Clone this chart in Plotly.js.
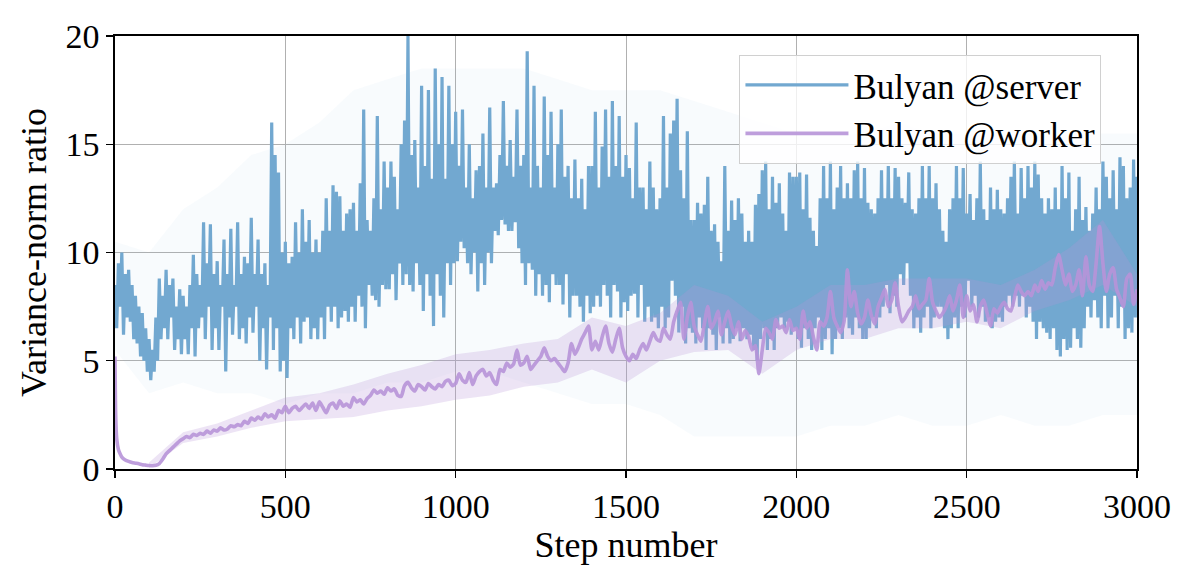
<!DOCTYPE html>
<html>
<head>
<meta charset="utf-8">
<script src="https://cdn.plot.ly/plotly-3.0.1.min.js"></script>
<style>html,body{margin:0;padding:0;background:#fff;}#chart{width:1196px;height:583px;}</style>
</head>
<body>
<div id="chart"></div>
<script>
// ---- Data ----
// Bulyan @server: local peaks at steps 0,10,...,3000 and local troughs at steps 5,15,...,2995
const serverPeaks = [
  8.5, 9.5, 10.0, 9.0, 9.2, 8.5, 8.0, 7.5, 7.2, 6.5,
  6.0, 5.5, 7.0, 8.8, 8.0, 9.2, 8.5, 8.8, 7.5, 8.3,
  8.0, 7.5, 8.5, 9.9, 9.0, 8.5, 11.4, 9.5, 11.3, 9.0,
  9.6, 8.5, 10.6, 9.0, 11.1, 8.5, 11.4, 9.0, 9.8, 9.5,
  11.6, 9.0, 10.6, 9.0, 9.5, 8.5, 16.0, 14.5, 13.7, 10.0,
  10.5, 9.5, 9.8, 11.4, 10.0, 12.0, 10.5, 11.5, 10.0, 10.6,
  10.0, 11.0, 12.5, 11.0, 13.1, 12.8, 12.6, 11.0, 11.8, 12.0,
  12.3, 11.0, 13.2, 16.6, 11.5, 11.0, 12.5, 16.3, 12.0, 14.2,
  13.0, 14.2, 13.5, 12.0, 15.0, 16.1, 20.0, 14.5, 15.2, 13.0,
  17.7, 14.0, 17.5, 13.4, 18.5, 15.0, 18.1, 13.4, 17.7, 15.0,
  16.5, 14.0, 16.6, 13.0, 15.0, 12.5, 13.8, 14.0, 15.5, 13.0,
  16.7, 13.0, 13.2, 14.5, 17.0, 14.0, 15.2, 13.5, 16.6, 14.0,
  14.5, 19.3, 13.0, 17.7, 14.0, 13.0, 17.2, 14.5, 16.5, 13.0,
  15.0, 16.6, 13.5, 14.0, 12.5, 14.3, 12.5, 13.4, 12.0, 14.0,
  14.0, 16.5, 13.0, 14.9, 16.6, 13.5, 17.0, 14.0, 16.3, 13.5,
  14.5, 13.9, 12.5, 16.0, 13.0, 13.0, 12.0, 14.2, 13.0, 12.0,
  12.5, 16.3, 13.0, 15.5, 16.1, 17.1, 13.8, 12.5, 15.6, 11.5,
  11.5, 12.3, 11.8, 12.2, 13.5, 11.0, 11.3, 10.5, 9.6, 14.0,
  11.0, 12.4, 11.5, 12.5, 11.8, 10.5, 11.0, 10.5, 12.2, 12.7,
  13.8, 14.2, 12.0, 13.5, 12.3, 13.2, 11.8, 11.0, 13.7, 13.5,
  13.5, 13.7, 12.0, 13.6, 11.6, 11.0, 10.3, 12.5, 14.0, 12.5,
  14.2, 12.0, 13.0, 14.0, 12.5, 13.2, 12.5, 13.8, 14.2, 12.5,
  13.9, 12.3, 12.0, 11.8, 12.5, 13.8, 12.5, 14.0, 12.5, 13.9,
  13.5, 12.5, 12.3, 13.7, 12.0, 11.8, 12.5, 14.0, 12.5, 14.0,
  12.5, 13.2, 12.0, 11.0, 10.5, 12.0, 12.5, 14.0, 12.5, 13.9,
  11.8, 12.7, 11.5, 12.5, 14.2, 12.0, 11.5, 13.0, 12.0, 12.9,
  12.0, 11.8, 12.5, 13.5, 14.2, 11.8, 13.9, 12.5, 14.0, 13.0,
  14.2, 13.6, 12.5, 11.8, 12.5, 12.0, 13.0, 12.0, 14.0, 12.5,
  13.7, 11.0, 12.0, 13.5, 11.5, 12.1, 11.0, 11.8, 13.0, 12.0,
  14.2, 13.5, 12.5, 13.8, 12.0, 14.4, 14.0, 12.5, 13.0, 14.3,
  13.5
];
const serverTroughs = [
  6.5, 7.5, 6.2, 7.0, 6.8, 6.0, 5.8, 5.2, 5.0, 4.5,
  4.1, 4.5, 5.0, 6.0, 6.5, 6.0, 7.0, 5.5, 6.0, 5.3,
  6.0, 5.3, 6.5, 5.2, 6.5, 7.0, 6.0, 7.5, 5.5, 6.5,
  5.5, 7.5, 4.5, 7.0, 6.2, 7.5, 6.0, 6.5, 5.8, 7.0,
  6.3, 7.5, 5.0, 6.5, 4.6, 7.0, 5.5, 6.5, 4.5, 5.0,
  4.2, 6.5, 6.0, 7.0, 5.8, 6.8, 7.0, 6.0, 6.5, 6.0,
  7.0, 6.0, 7.5, 6.8, 7.5, 6.5, 7.0, 7.3, 6.8, 7.5,
  6.8, 8.0, 7.5, 6.5, 8.5, 8.0, 7.8, 7.5, 8.5, 8.3,
  8.3, 9.0, 7.8, 9.5, 8.5, 9.0, 8.5, 8.2, 9.5, 8.5,
  7.3, 9.0, 8.0, 6.6, 9.0, 8.0, 7.0, 9.5, 8.5, 9.5,
  9.6, 10.5, 10.2, 9.5, 9.0, 10.0, 8.2, 9.5, 8.5, 10.0,
  9.5, 11.0, 10.8, 11.5, 11.3, 11.0, 11.0, 11.4, 10.2, 9.5,
  8.5, 9.5, 9.2, 8.0, 9.0, 8.0, 8.5, 7.7, 9.0, 8.5,
  8.5, 7.6, 9.0, 7.0, 8.0, 8.0, 7.5, 6.8, 8.0, 7.2,
  7.5, 8.0, 7.5, 8.5, 8.0, 7.0, 8.5, 8.2, 7.0, 7.7,
  7.3, 8.0, 8.1, 7.0, 8.5, 6.8, 7.5, 6.8, 7.0, 6.5,
  7.5, 6.5, 7.0, 8.7, 8.0, 6.3, 7.5, 5.8, 6.5, 6.3,
  5.8, 7.0, 6.5, 5.5, 6.5, 6.2, 5.5, 7.0, 5.8, 6.5,
  5.8, 6.0, 6.5, 5.9, 6.5, 6.0, 6.2, 5.5, 5.0, 6.0,
  6.5, 5.5, 6.0, 5.5, 6.5, 7.0, 6.5, 6.8, 6.2, 6.5,
  6.0, 5.6, 6.5, 6.0, 5.5, 6.5, 7.0, 5.5, 6.0, 6.5,
  5.3, 6.0, 6.5, 6.0, 7.0, 6.5, 6.2, 7.0, 6.5, 6.0,
  6.0, 6.5, 7.0, 6.5, 7.0, 7.5, 8.5, 7.2, 8.0, 7.5,
  9.0, 8.5, 9.5, 8.0, 6.5, 7.0, 6.3, 7.0, 7.5, 6.5,
  7.0, 7.5, 7.5, 6.5, 6.0, 6.5, 7.0, 6.5, 7.5, 7.0,
  8.7, 7.5, 8.0, 7.0, 7.5, 6.8, 7.0, 6.5, 6.8, 7.0,
  6.8, 7.5, 8.0, 7.5, 8.0, 7.5, 8.0, 7.0, 7.5, 6.8,
  6.0, 6.8, 6.5, 6.3, 6.0, 6.5, 5.5, 5.2, 6.0, 5.5,
  5.6, 6.5, 6.0, 5.6, 6.5, 7.5, 7.0, 7.8, 7.0, 6.5,
  8.0, 6.5, 7.0, 8.0, 6.5, 7.5, 6.0, 6.5, 6.3, 7.0
];
const serverStepSize = 10;

// Shaded spread of the server runs, one pair every 100 steps (0..3000)
const serverBandSteps = [0,100,200,300,400,500,600,700,800,900,1000,1100,1200,1300,1400,1500,
  1600,1700,1800,1900,2000,2100,2200,2300,2400,2500,2600,2700,2800,2900,3000];
const serverBandLow = [5.5,3.5,4.0,3.5,3.5,3.0,3.5,3.5,4.0,4.0,4.5,4.5,4.0,3.5,3.0,3.0,
  2.5,1.5,1.5,1.5,1.5,2.0,2.0,2.5,2.0,2.0,2.5,2.0,2.0,2.5,2.5];
const serverBandHigh = [10.5,10,12,13,14.5,15,16,17.5,18,18.5,18.5,18.5,18.5,18,17.5,17.5,
  17.5,17,16.5,16,15.5,15.5,15.5,16,15.5,15.5,15.5,15.5,15.5,15.5,15.5];

// Bulyan @worker: irregular start, then every 10 steps from 110 to 3000
const workerHeadSteps = [0,2,5,10,15,20,30,40,50,60,70,80,90,100];
const workerHeadValues = [5.2,2.5,1.4,0.9,0.7,0.55,0.42,0.35,0.3,0.27,0.24,0.2,0.18,0.16];
const workerValues = [
  0.15, 0.17, 0.25, 0.45, 0.7, 0.85, 1.0, 1.15, 1.3, 1.4,
  1.5, 1.45, 1.6, 1.55, 1.65, 1.6, 1.75, 1.65, 1.8, 1.75,
  1.9, 1.8, 1.85, 2.0, 1.95, 2.05, 2.0, 2.2, 2.1, 2.35,
  2.25, 2.4, 2.3, 2.55, 2.4, 2.5, 2.35, 2.7, 2.6, 2.9,
  2.6, 2.8, 2.9, 2.7, 2.85, 3.0, 2.8, 3.05, 2.7, 3.1,
  2.85, 2.6, 2.95, 3.05, 2.8, 3.15, 2.9, 3.0, 2.85, 3.3,
  3.1, 3.2, 3.0, 3.25, 3.4, 3.65, 3.5, 3.6, 3.45, 3.75,
  3.6, 3.7, 3.4, 3.35, 3.85, 4.0, 3.75, 3.6, 3.9, 3.8,
  3.65, 3.95, 3.8, 3.7, 3.9, 3.8, 4.05, 4.1, 3.85, 3.95,
  4.4, 4.1, 4.0, 4.45, 3.9, 4.3, 4.5, 4.6, 4.3, 4.45,
  4.1, 3.9, 4.6, 4.5, 4.9, 4.7, 4.85, 5.5, 4.8, 4.9,
  5.2, 4.6, 4.8, 5.0, 5.2, 5.6, 5.2, 5.0, 5.1, 4.9,
  4.7, 4.5, 4.9, 5.8, 5.3, 5.6, 6.0, 6.3, 6.6, 5.5,
  5.9, 5.5, 6.1, 6.6, 5.8, 5.4, 6.0, 6.5, 5.6, 5.2,
  5.0, 5.3, 5.1, 5.5, 5.8, 5.5, 5.9, 6.3, 6.0, 5.9,
  6.5, 6.2, 6.0, 6.8, 7.3, 7.7, 6.0, 7.0, 7.7, 6.6,
  6.2, 5.9, 6.7, 7.5, 6.5, 6.8, 7.3, 6.2, 6.8, 7.3,
  6.6, 6.2, 6.8, 6.0, 6.4, 6.1, 5.5, 5.7, 4.4, 5.5,
  6.5, 6.3, 6.0, 6.9, 6.5, 6.6, 6.3, 6.9, 6.4, 6.5,
  6.0, 7.3, 6.5, 6.8, 6.1, 5.5, 6.8, 6.6, 7.0, 8.2,
  7.0, 6.6, 6.3, 6.8, 9.2, 7.5, 8.2, 7.2, 6.7, 7.0,
  7.8, 7.1, 6.7, 7.5, 7.9, 8.3, 7.5, 7.8, 8.6, 7.5,
  6.8, 7.0, 7.3, 7.5, 8.0, 7.4, 7.6, 7.8, 8.8, 7.7,
  7.3, 7.0, 7.2, 7.5, 8.0, 7.3, 7.8, 8.5, 7.0, 8.0,
  7.3, 7.6, 6.8, 7.5, 7.8, 7.2, 6.6, 7.4, 7.2, 7.5,
  7.7, 7.4, 7.3, 7.9, 8.5, 8.2, 8.0, 8.2, 8.0, 8.5,
  8.2, 8.7, 8.3, 8.6, 8.5, 9.3, 9.9, 9.2, 8.5, 9.0,
  8.2, 8.5, 9.2, 8.0, 9.8, 8.5, 8.2, 9.5, 11.2, 9.5,
  8.2, 9.0, 9.3, 8.3, 7.9, 7.5, 8.8, 9.0, 7.6, 8.3
];
const workerStartStep = 110;
const workerStepSize = 10;

// Shaded spread of the worker runs, one pair every 100 steps (100..3000)
const workerBandSteps = [100,200,300,400,500,600,700,800,900,1000,1100,1200,1300,1400,1500,
  1600,1700,1800,1900,2000,2100,2200,2300,2400,2500,2600,2700,2800,2900,3000];
const workerBandLow = [0.05,1.2,1.5,1.9,2.2,2.3,2.4,2.7,2.9,3.2,3.4,3.8,4.0,4.6,4.0,
  5.0,5.4,5.5,4.4,5.5,6.0,6.0,6.5,6.5,6.8,6.5,7.3,7.8,8.5,7.5];
const workerBandHigh = [0.3,1.7,2.1,2.7,3.3,3.5,3.9,4.4,4.8,5.3,5.5,5.8,6.0,7.0,6.6,
  7.2,8.5,8.0,6.8,7.5,8.5,8.5,8.8,8.8,8.8,8.5,9.2,10.2,11.5,9.0];

const seriesNames = ['Bulyan @server', 'Bulyan @worker'];
const xTickValues = [0, 500, 1000, 1500, 2000, 2500, 3000];
const yTickValues = [0, 5, 10, 15, 20];

// ---- Build coordinates (step indices) from the arrays ----
const serverX = [], serverY = [];
serverPeaks.forEach((v, i) => {
  serverX.push(i * serverStepSize); serverY.push(v);
  if (i < serverTroughs.length) { serverX.push(i * serverStepSize + serverStepSize / 2); serverY.push(serverTroughs[i]); }
});
const workerSteps = workerHeadSteps.concat(workerValues.map((_, i) => workerStartStep + i * workerStepSize));
const workerAll = workerHeadValues.concat(workerValues);

const blue = 'rgb(114,168,208)';
const purple = 'rgb(183,148,216)';
const FONT = '"Liberation Serif", "DejaVu Serif", serif';

const traces = [
  {x: serverBandSteps, y: serverBandLow, mode: 'lines', line: {width: 0, color: blue},
   showlegend: false, hoverinfo: 'skip'},
  {x: serverBandSteps, y: serverBandHigh, mode: 'lines', line: {width: 0, color: blue},
   fill: 'tonexty', fillcolor: 'rgba(114,168,208,0.05)', showlegend: false, hoverinfo: 'skip'},
  {x: serverX, y: serverY, mode: 'lines', name: seriesNames[0],
   line: {width: 3.2, color: blue}},
  {x: workerBandSteps, y: workerBandLow, mode: 'lines', line: {width: 0, color: purple},
   showlegend: false, hoverinfo: 'skip'},
  {x: workerBandSteps, y: workerBandHigh, mode: 'lines', line: {width: 0, color: purple},
   fill: 'tonexty', fillcolor: 'rgba(183,148,216,0.25)', showlegend: false, hoverinfo: 'skip'},
  {x: workerSteps, y: workerAll, mode: 'lines', name: seriesNames[1],
   line: {width: 3.6, color: purple, shape: 'spline', smoothing: 0.6}, opacity: 0.9}
];

const axisCommon = {
  showline: true, mirror: true, linecolor: '#000', linewidth: 1.6,
  ticks: 'outside', ticklen: 7, tickwidth: 1.4, tickcolor: '#000',
  showgrid: true, gridcolor: '#b0b0b0', gridwidth: 1,
  zeroline: false, tickfont: {family: FONT, size: 34, color: '#000'}
};

const layout = {
  width: 1196, height: 583,
  margin: {l: 115, r: 59, t: 36, b: 114},
  paper_bgcolor: '#fff', plot_bgcolor: '#fff',
  font: {family: FONT, color: '#000'},
  xaxis: Object.assign({}, axisCommon, {
    range: [0, 3000], tickmode: 'array', tickvals: xTickValues,
    title: {text: 'Step number', font: {family: FONT, size: 36, color: '#000'}, standoff: 6}
  }),
  yaxis: Object.assign({}, axisCommon, {
    range: [0, 20], tickmode: 'array', tickvals: yTickValues,
    title: {text: 'Variance-norm ratio', font: {family: FONT, size: 36, color: '#000'}, standoff: 8}
  }),
  legend: {
    x: 0.611, y: 0.957, xanchor: 'left', yanchor: 'top', traceorder: 'normal',
    bgcolor: 'rgba(255,255,255,0.8)', bordercolor: '#d0d0d0', borderwidth: 1,
    font: {family: FONT, size: 35, color: '#000'}, itemwidth: 103
  },
  showlegend: true
};

Plotly.newPlot('chart', traces, layout, {displayModeBar: false, staticPlot: true});
</script>
</body>
</html>
